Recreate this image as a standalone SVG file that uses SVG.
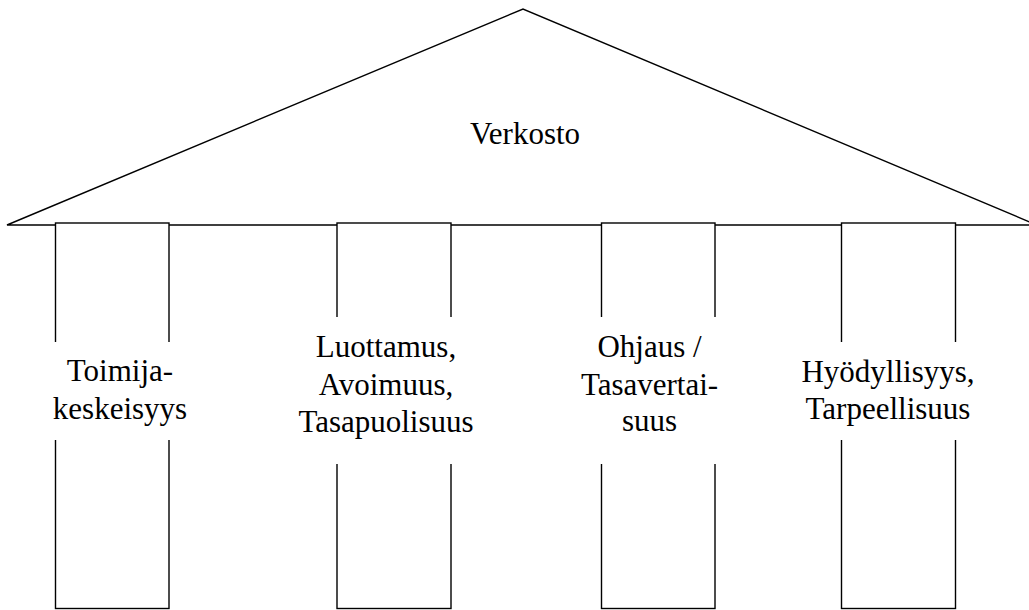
<svg xmlns="http://www.w3.org/2000/svg" width="1029" height="610" viewBox="0 0 1029 610">
<style>
.ln{fill:none;stroke:#000;stroke-width:1.4}
.pl{fill:#fff;stroke:#000;stroke-width:1.4}
.mask{fill:#fff;stroke:none}
.t{font-family:"Liberation Serif","Times New Roman",serif;font-size:31px;fill:#000;text-anchor:middle}
</style>
<rect width="1029" height="610" fill="#fff"/>
<g id="roof">
<polygon class="ln" points="7,225 523,9 1037,225"/>
<text class="t" x="525" y="144">Verkosto</text>
</g>
<g id="pillar1">
<rect class="pl" x="55.5" y="223" width="113.5" height="385.5"/>
<rect class="mask" x="40" y="342" width="160" height="98"/>
<text class="t" x="120" y="381">Toimija-</text>
<text class="t" x="120" y="419">keskeisyys</text>
</g>
<g id="pillar2">
<rect class="pl" x="337" y="223" width="114" height="385.5"/>
<rect class="mask" x="290" y="317" width="190" height="147"/>
<text class="t" x="386" y="357">Luottamus,</text>
<text class="t" x="386" y="395">Avoimuus,</text>
<text class="t" x="386" y="432">Tasapuolisuus</text>
</g>
<g id="pillar3">
<rect class="pl" x="601.5" y="223" width="113.5" height="385.5"/>
<rect class="mask" x="575" y="317" width="150" height="147"/>
<text class="t" x="649.5" y="357">Ohjaus /</text>
<text class="t" x="649.5" y="395">Tasavertai-</text>
<text class="t" x="649.5" y="431">suus</text>
</g>
<g id="pillar4">
<rect class="pl" x="841.5" y="223" width="114" height="385.5"/>
<rect class="mask" x="795" y="342" width="185" height="98"/>
<text class="t" x="888" y="381.5">Hyödyllisyys,</text>
<text class="t" x="888" y="419">Tarpeellisuus</text>
</g>
<g id="connectors"></g>
</svg>
